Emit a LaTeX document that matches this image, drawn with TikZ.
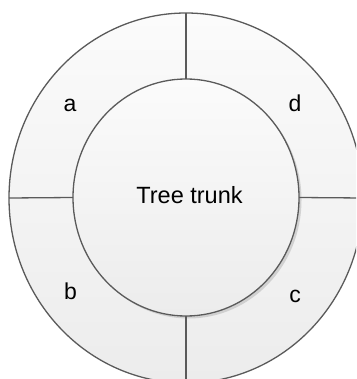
\documentclass[tikz,border=0pt]{standalone}
\usepackage{fontspec}
\setmainfont{Liberation Sans}
\usetikzlibrary{shapes.geometric,shadows}
\definecolor{edge}{HTML}{5A5A5A}
\definecolor{shadeTop}{HTML}{FBFBFB}
\definecolor{shadeBot}{HTML}{ECECEC}
\tikzset{
  ring/.style={ellipse, draw=edge, line width=1.3pt, inner sep=0pt, outer sep=0pt,
    top color=shadeTop, bottom color=shadeBot},
  divider/.style={draw=edge, line width=1.3pt},
  lbl/.style={font=\fontsize{23}{26}\selectfont, anchor=base, inner sep=0pt}
}
\begin{document}
\begin{tikzpicture}[x=1pt,y=-1pt]
  \useasboundingbox (0,0) rectangle (356,379);
  \clip (0,0) rectangle (356,379);
  % outer ring
  \node[ring, minimum width=354pt, minimum height=370pt] (outer) at (186,198) {};
  % tree trunk in the middle
  \node[ring, minimum width=226pt, minimum height=237pt,
        drop shadow={shadow xshift=2.5pt, shadow yshift=-2.5pt, fill=black!30, opacity=0.5}]
        (trunk) at (186,197.5) {};
  \node[font=\fontsize{23.5}{26}\selectfont, inner sep=0pt, anchor=base] (trunklbl) at (189.5,203) {Tree trunk};
  % dividers between the four sectors
  \draw[divider] (outer.north) -- (trunk.north);
  \draw[divider] (trunk.south) -- (outer.south);
  \draw[divider] (outer.west) -- (trunk.west);
  \draw[divider] (trunk.east) -- (outer.east);
  % sector labels
  \node[lbl] (la) at (70,112) {a};
  \node[lbl] (ld) at (295,112) {d};
  \node[lbl] (lb) at (70.5,299) {b};
  \node[lbl] (lc) at (295,302) {c};
\end{tikzpicture}
\end{document}
